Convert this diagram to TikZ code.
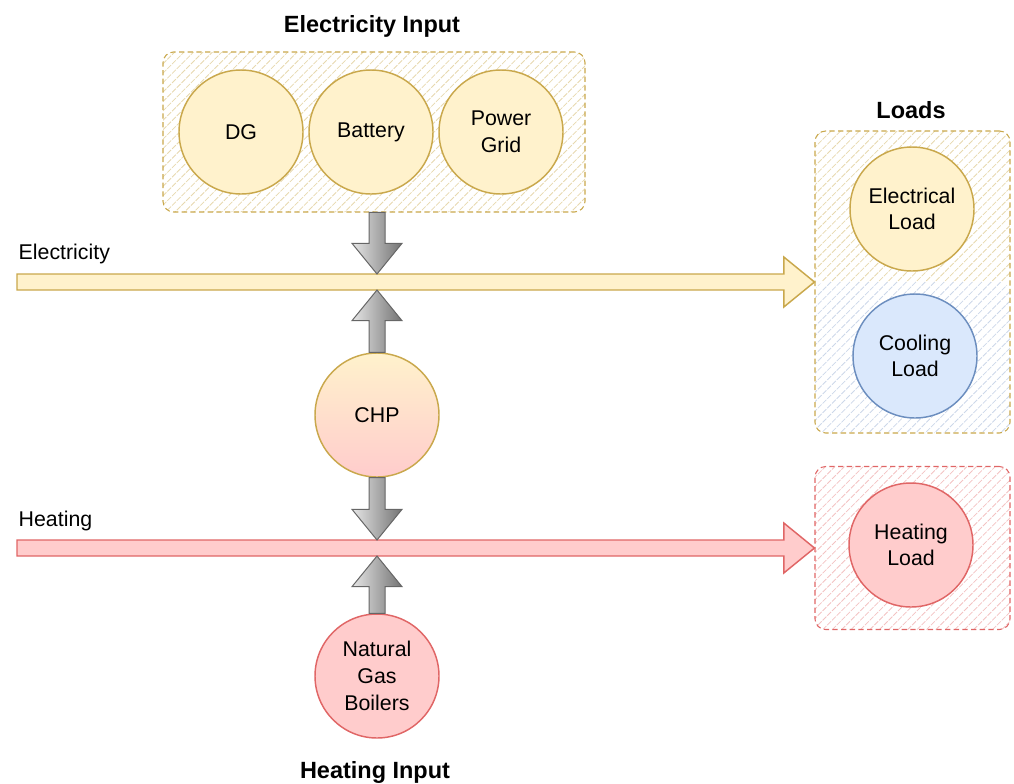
\documentclass[tikz,border=0pt]{standalone}
\usepackage{fontspec}
\setmainfont{Liberation Sans}
\usetikzlibrary{calc,patterns.meta}
\definecolor{elecfill}{HTML}{FFF2CC}
\definecolor{elecline}{HTML}{C9A84C}
\definecolor{heatfill}{HTML}{FFCCCC}
\definecolor{heatline}{HTML}{E06666}
\definecolor{coolfill}{HTML}{DAE8FC}
\definecolor{coolline}{HTML}{6C8EBF}
% block arrow: style, from, to
\newcommand\blockarrow[3]{%
  \path (#2) coordinate (ba-from) (#3) coordinate (ba-tip) ($(#3)!23pt!(#2)$) coordinate (ba-base);
  \path[#1] ($(ba-from)!6pt!90:(ba-tip)$) -- ($(ba-base)!6pt!90:(ba-tip)$) -- ($(ba-base)!18.75pt!90:(ba-tip)$)
    -- (ba-tip) -- ($(ba-base)!18.75pt!-90:(ba-tip)$) -- ($(ba-base)!6pt!-90:(ba-tip)$)
    -- ($(ba-from)!6pt!-90:(ba-tip)$) -- cycle;}
\tikzset{
  unit/.style={circle, line width=1.1pt, minimum size=93pt, inner sep=0pt, align=center},
  elecunit/.style={unit, draw=elecline, fill=elecfill},
  heatunit/.style={unit, draw=heatline, fill=heatfill},
  coolunit/.style={unit, draw=coolline, fill=coolfill},
  group/.style={draw, dashed, dash pattern=on 4pt off 2.5pt, line width=0.8pt, rounded corners=8pt},
  yhatch/.style={pattern={Lines[angle=45,distance=5pt,line width=0.6pt]}, pattern color=elecline!45},
  rhatch/.style={pattern={Lines[angle=45,distance=5pt,line width=0.6pt]}, pattern color=heatline!40},
  bhatch/.style={pattern={Lines[angle=45,distance=5pt,line width=0.6pt]}, pattern color=coolline!35},
  title/.style={font=\fontsize{17.6}{21}\selectfont\bfseries},
  grayarrow/.style={draw=black!60, line width=0.75pt, left color=black!10, right color=black!55},
  elecflow/.style={draw=elecline, line width=1.1pt, fill=elecfill},
  heatflow/.style={draw=heatline, line width=1.1pt, fill=heatfill},
}
\begin{document}
\begin{tikzpicture}[x=0.75pt, y=-0.75pt, font=\fontsize{16}{20}\selectfont]
    \useasboundingbox (0,0) rectangle (1014,783);
    % Gruppi
    \node[group, draw=elecline, yhatch, minimum width=316.5pt, minimum height=120pt] (elecin) at (374,132) {};
    \node[group, draw=elecline, minimum width=146.25pt, minimum height=226.5pt,
        path picture={
            \path[yhatch] (path picture bounding box.north west) rectangle (path picture bounding box.east);
            \path[bhatch] (path picture bounding box.west) rectangle (path picture bounding box.south east);
        }] (loads) at (912.5,282) {};
    \node[group, draw=heatline, rhatch, minimum width=146.25pt, minimum height=122.25pt] (heatbox) at (912.5,548) {};
    % Titoli
    \node[title] (elecintitle) at (372,26) {Electricity Input};
    \node[title] (loadstitle) at (911,110) {Loads};
    \node[title] (heatintitle) at (375,772) {Heating Input};
    % Unita
    \node[elecunit] (dg) at (241,132) {DG};
    \node[elecunit] (battery) at (371,132) {Battery};
    \node[elecunit] (grid) at (501,132) {Power\\Grid};
    \node[unit, draw=elecline, top color=elecfill, bottom color=heatfill] (chp) at (377,415) {CHP};
    \node[heatunit] (ngb) at (377,676) {Natural\\Gas\\Boilers};
    \node[elecunit] (eload) at (912,209) {Electrical\\Load};
    \node[coolunit] (cload) at (915,356) {Cooling\\Load};
    \node[heatunit] (hload) at (911,545) {Heating\\Load};
    % Flussi
    \coordinate (elecstart) at (17,282);
    \coordinate (heatstart) at (17,548);
    \blockarrow{elecflow}{elecstart}{loads.west}
    \blockarrow{heatflow}{heatstart}{heatbox.west}
    \node[anchor=west] (eleclabel) at (14,254) {Electricity};
    \node[anchor=west] (heatlabel) at (14,521) {Heating};
    \coordinate (etop) at (377,274);
    \coordinate (ebot) at (377,290);
    \coordinate (htop) at (377,540);
    \coordinate (hbot) at (377,556);
    \blockarrow{grayarrow}{chp |- elecin.south}{etop}
    \blockarrow{grayarrow}{chp.north}{ebot}
    \blockarrow{grayarrow}{chp.south}{htop}
    \blockarrow{grayarrow}{ngb.north}{hbot}
\end{tikzpicture}
\end{document}
